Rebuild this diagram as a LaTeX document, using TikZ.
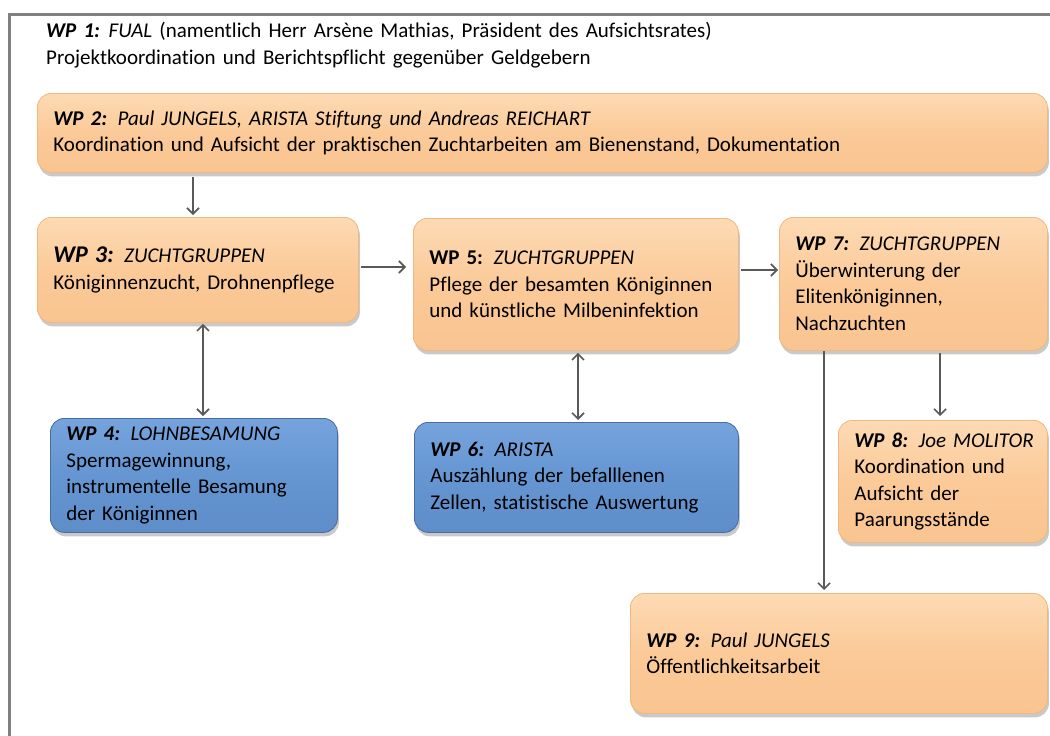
\documentclass[tikz,border=0pt]{standalone}
\usepackage{fontspec}
\setmainfont{Carlito}[WordSpace=1.5,Ligatures=NoCommon]
\usetikzlibrary{arrows.meta,shadows}
\definecolor{orMain}{RGB}{251,202,152}
\definecolor{orTop}{RGB}{253,218,180}
\definecolor{orBot}{RGB}{249,196,144}
\definecolor{orLine}{RGB}{238,184,128}
\definecolor{blMain}{RGB}{101,150,210}
\definecolor{blTop}{RGB}{118,163,220}
\definecolor{blBot}{RGB}{94,141,200}
\definecolor{blLine}{RGB}{70,108,162}
\definecolor{frameGray}{RGB}{128,128,128}
\definecolor{arrGray}{RGB}{89,89,89}
\tikzset{
  x=1pt, y=-1pt,
  wpfont/.style={font=\fontsize{21}{26.5}\selectfont},
  wpbox/.style={anchor=north west, rounded corners=14pt, align=left,
    inner xsep=16pt, inner ysep=0pt, line width=0.8pt, wpfont,
    drop shadow={shadow xshift=1.5pt, shadow yshift=-4pt, opacity=0.35, fill=black!60}},
  orbox/.style={wpbox, draw=orLine, top color=orTop, bottom color=orBot, middle color=orMain},
  blbox/.style={wpbox, draw=blLine, top color=blTop, bottom color=blBot, middle color=blMain},
  conn/.style={draw=arrGray, line width=1.6pt, -{Straight Barb[length=6pt,width=12pt,line width=1.6pt]}},
  dconn/.style={draw=arrGray, line width=1.6pt, {Straight Barb[length=6pt,width=12pt,line width=1.6pt]}-{Straight Barb[length=6pt,width=12pt,line width=1.6pt]}},
}
\begin{document}
\begin{tikzpicture}
\useasboundingbox (0,0) rectangle (1050,736);
\fill[white] (0,0) rectangle (1050,736);
% outer frame
\draw[frameGray, line width=3pt] (9,736) -- (9,14) -- (1052,14);

% WP1 text
\node[anchor=north west, align=left, inner sep=0pt, wpfont] (wp1) at (46,22)
  {\textbf{\textit{WP 1:}} \textit{FUAL} (namentlich Herr Arsène Mathias, Präsident des Aufsichtsrates)\\
   Projektkoordination und Berichtspflicht gegenüber Geldgebern};

\node[orbox, text width=978pt, minimum height=79pt] (wp2) at (37,93)
  {\textbf{\textit{WP 2:}} \textit{Paul JUNGELS, ARISTA Stiftung und Andreas REICHART}\\
   Koordination und Aufsicht der praktischen Zuchtarbeiten am Bienenstand, Dokumentation};

\node[orbox, text width=289pt, minimum height=105pt] (wp3) at (37,217)
  {\textbf{\textit{\fontsize{24}{26.5}\selectfont WP 3:}} \textit{ZUCHTGRUPPEN}\\
   Königinnenzucht, Drohnenpflege};

\node[orbox, text width=293pt, minimum height=132pt] (wp5) at (413,218)
  {\textbf{WP 5:} \textit{ZUCHTGRUPPEN}\\
   Pflege der besamten Königinnen\\
   und künstliche Milbeninfektion};

\node[orbox, text width=236pt, minimum height=133pt] (wp7) at (779,217)
  {\textbf{\textit{WP 7:}} \textit{ZUCHTGRUPPEN}\\
   Überwinterung der\\
   Elitenköniginnen,\\
   Nachzuchten};

\node[blbox, text width=255pt, minimum height=114pt] (wp4) at (50,418)
  {\textbf{\textit{WP 4:}} \textit{LOHNBESAMUNG}\\
   Spermagewinnung,\\
   instrumentelle Besamung\\
   der Königinnen};

\node[blbox, text width=292pt, minimum height=110pt] (wp6) at (414,422)
  {\textbf{\textit{WP 6:}} \textit{ARISTA}\\
   Auszählung der befalllenen\\
   Zellen, statistische Auswertung};

\node[orbox, text width=177pt, minimum height=122pt] (wp8) at (838,420)
  {\mbox{\textbf{\textit{WP 8:}} \textit{Joe MOLITOR}}\\
   Koordination und\\
   Aufsicht der\\
   Paarungsstände};

\node[orbox, text width=385pt, minimum height=120pt] (wp9) at (630,593)
  {\textbf{\textit{WP 9:}} \textit{Paul JUNGELS}\\
   Öffentlichkeitsarbeit};

% connectors
\draw[conn, shorten <=4pt, shorten >=2pt] (wp2.south -| 193,0) -- (wp3.north -| 193,0);
\draw[conn, shorten <=2pt, shorten >=7pt] (wp3.east |- 0,267) -- (wp5.west |- 0,267);
\draw[conn, shorten <=2pt, shorten >=1pt] (wp5.east |- 0,270) -- (wp7.west |- 0,270);
\draw[dconn, shorten <=1pt, shorten >=2pt] (wp3.south -| 203,0) -- (wp4.north -| 203,0);
\draw[dconn, shorten <=2pt, shorten >=2pt] (wp5.south -| 578,0) -- (wp6.north -| 578,0);
\draw[conn, shorten <=2pt, shorten >=4pt] (wp7.south -| 940,0) -- (wp8.north -| 940,0);
\draw[conn, shorten <=0pt, shorten >=3pt] (wp7.south -| 824,0) -- (wp9.north -| 824,0);
\end{tikzpicture}
\end{document}
